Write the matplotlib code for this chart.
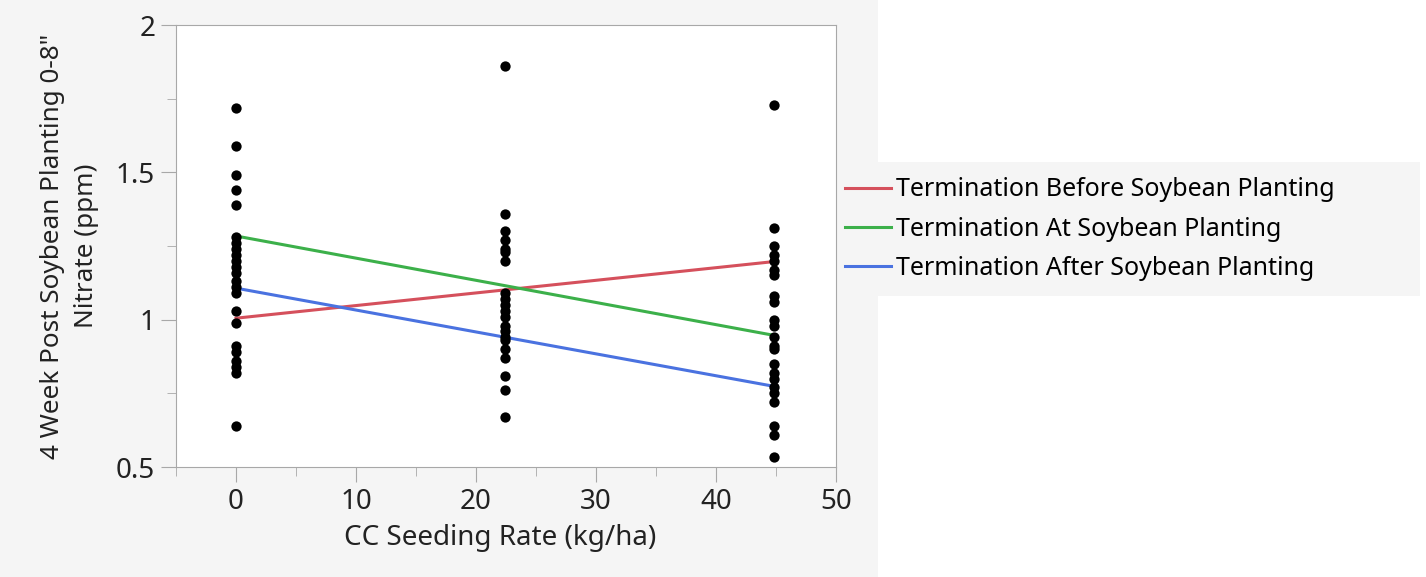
import matplotlib.pyplot as plt
from matplotlib.patches import Rectangle
from matplotlib.ticker import MultipleLocator

plt.rcParams['font.family'] = ['Noto Sans', 'DejaVu Sans']

# seeding rates (kg/ha)
rate0 = 0
rate1 = 22.4
rate2 = 44.8

# nitrate (ppm) observations at each rate
nitrate_0 = [1.72, 1.59, 1.49, 1.44, 1.39, 1.28, 1.26, 1.24, 1.22, 1.20, 1.18, 1.16,
             1.13, 1.11, 1.09, 1.03, 0.99, 0.91, 0.89, 0.86, 0.84, 0.82, 0.64]
nitrate_1 = [1.86, 1.36, 1.30, 1.27, 1.24, 1.23, 1.20, 1.09, 1.07, 1.05, 1.03, 1.01,
             0.98, 0.96, 0.94, 0.93, 0.90, 0.87, 0.81, 0.76, 0.67]
nitrate_2 = [1.73, 1.31, 1.25, 1.22, 1.20, 1.17, 1.15, 1.08, 1.06, 1.00, 0.98, 0.94,
             0.91, 0.90, 0.85, 0.82, 0.80, 0.77, 0.75, 0.72, 0.64, 0.61, 0.535]

# fitted lines per termination timing (value at rate 0 and at 44.8)
fit_names = ['Termination Before Soybean Planting',
             'Termination At Soybean Planting',
             'Termination After Soybean Planting']
fit_start = [1.005, 1.284, 1.107]
fit_end = [1.197, 0.947, 0.774]
fit_colors = ['#d5505c', '#3cb04a', '#4a72e0']

fig = plt.figure(figsize=(14.26, 5.77), dpi=100)
fig.patch.set_facecolor('white')
# grey panel behind the plot and the legend box
fig.patches.append(Rectangle((0, 0), 878 / 1426, 1, transform=fig.transFigure,
                             facecolor='#f5f5f5', edgecolor='none', zorder=-10))
fig.patches.append(Rectangle((878 / 1426, 1 - 296 / 577), (1420 - 878) / 1426, 134 / 577,
                             transform=fig.transFigure, facecolor='#f5f5f5',
                             edgecolor='none', zorder=-10))

ax = fig.add_axes([176 / 1426, 1 - 467 / 577, 660 / 1426, 442 / 577])
ax.set_facecolor('white')

xs = [rate0] * len(nitrate_0) + [rate1] * len(nitrate_1) + [rate2] * len(nitrate_2)
ys = nitrate_0 + nitrate_1 + nitrate_2

handles = []
for name, y0, y1, c in zip(fit_names, fit_start, fit_end, fit_colors):
    ln, = ax.plot([rate0, rate2], [y0, y1], color=c, lw=2.2, label=name, zorder=2)
    handles.append(ln)

ax.scatter(xs, ys, s=55, color='black', zorder=3, linewidths=0)

ax.set_xlim(-5, 50)
ax.set_ylim(0.5, 2)
ax.xaxis.set_major_locator(MultipleLocator(10))
ax.xaxis.set_minor_locator(MultipleLocator(5))
ax.yaxis.set_minor_locator(MultipleLocator(0.25))
ax.set_yticks([0.5, 1, 1.5, 2])
ax.set_yticklabels(['0.5', '1', '1.5', '2'])

for s in ax.spines.values():
    s.set_color('#a8a8a8')
ax.tick_params(which='major', length=11, color='#a8a8a8', labelsize=20,
               labelcolor='#222222', pad=4)
ax.tick_params(which='minor', length=6.5, color='#a8a8a8')

ax.set_xlabel('CC Seeding Rate (kg/ha)', fontsize=20, color='#222222')
ax.xaxis.set_label_coords(0.491, -0.128)
ax.set_ylabel('4 Week Post Soybean Planting 0-8"\nNitrate (ppm)', fontsize=18.8,
              color='#222222', linespacing=1.5)
ax.yaxis.set_label_coords(-0.116, 0.5)

fig.legend(handles=handles, loc='center left', bbox_to_anchor=(845 / 1426, 1 - 229 / 577),
           frameon=False, fontsize=18, handlelength=1.85, handletextpad=0.2,
           labelspacing=0.57, borderaxespad=0, borderpad=0)

fig.savefig('out.png', dpi=100)
